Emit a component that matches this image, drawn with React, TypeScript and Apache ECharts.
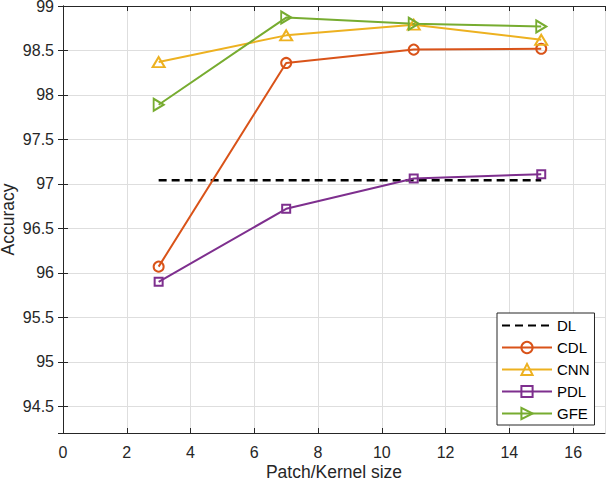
import React, { useEffect, useRef } from "react";
import * as echarts from "echarts";

const patchSizes = [3, 7, 11, 15];
const dlValues = [97.04, 97.04, 97.04, 97.04];
const cdlValues = [96.07, 98.36, 98.51, 98.52];
const cnnValues = [98.37, 98.67, 98.79, 98.62];
const pdlValues = [95.9, 96.72, 97.06, 97.11];
const gfeValues = [97.89, 98.87, 98.8, 98.77];
const seriesNames = ["DL", "CDL", "CNN", "PDL", "GFE"];

const FONT = "'Liberation Sans', Arial, Helvetica, sans-serif";
const AX = "#262626";
const GRID = "#dedede";
const CLEAR = "rgba(255,255,255,0)";

function pairs(values: number[]) {
  return patchSizes.map((x, i) => [x, values[i]]);
}

export default function App() {
  const ref = useRef<HTMLDivElement>(null);
  useEffect(() => {
    if (!ref.current) return;
    const chart = echarts.init(ref.current, null, { renderer: "svg" });
    const mk = (
      name: string,
      values: number[],
      color: string,
      symbol: string,
      symbolSize: any,
      dashed = false
    ) => ({
      name,
      type: "line",
      data: pairs(values),
      xAxisIndex: 0,
      yAxisIndex: 0,
      symbol,
      showSymbol: !dashed,
      symbolSize,
      lineStyle: { color, width: dashed ? 2.5 : 2, type: dashed ? [8, 5] : "solid" },
      itemStyle: dashed
        ? { color: CLEAR, borderColor: CLEAR, borderWidth: 0 }
        : { color: CLEAR, borderColor: color, borderWidth: 2 },
      emphasis: { disabled: true },
      z: dashed ? 2 : 3,
    });
    chart.setOption({
      animation: false,
      textStyle: { fontFamily: FONT },
      grid: { left: 63, right: 1, top: 6, bottom: 50, containLabel: false, outerBoundsMode: "none" },
      legend: {
        data: seriesNames,
        orient: "vertical",
        left: 497,
        top: 313,
        itemWidth: 50,
        itemHeight: 14,
        itemGap: 7,
        padding: [5, 5, 4, 4],
        backgroundColor: "#fff",
        borderColor: AX,
        borderWidth: 1,
        borderRadius: 0,
        textStyle: { fontSize: 15, color: "#000", fontFamily: FONT, lineHeight: 14 },
        selectedMode: false,
      },
      xAxis: [
        {
          type: "value",
          min: 0,
          max: 17,
          interval: 2,
          position: "bottom",
          name: "Patch/Kernel size",
          nameLocation: "middle",
          nameGap: 30,
          nameMoveOverlap: false,
          nameTextStyle: { fontSize: 17.5, color: AX, fontFamily: FONT },
          axisLine: { lineStyle: { color: AX, width: 1 } },
          axisTick: { inside: true, length: 5, lineStyle: { color: AX } },
          axisLabel: { fontSize: 16, color: AX, margin: 11, showMaxLabel: false, fontFamily: FONT },
          splitLine: { show: true, lineStyle: { color: GRID, width: 1 } },
        },
        {
          type: "value",
          min: 0,
          max: 17,
          interval: 2,
          position: "top",
          axisLine: { show: true, lineStyle: { color: AX, width: 1 } },
          axisTick: { show: true, inside: true, length: 5, lineStyle: { color: AX } },
          axisLabel: { show: false },
          splitLine: { show: false },
        },
      ],
      yAxis: [
        {
          type: "value",
          min: 94.2,
          max: 99,
          splitNumber: 10,
          position: "left",
          name: "Accuracy",
          nameLocation: "middle",
          nameGap: 48,
          nameMoveOverlap: false,
          nameTextStyle: { fontSize: 17.5, color: AX, fontFamily: FONT, lineHeight: 14 },
          axisLine: { show: true, lineStyle: { color: AX, width: 1 } },
          axisTick: { show: true, inside: true, length: 5, lineStyle: { color: AX } },
          axisLabel: {
            fontSize: 16,
            lineHeight: 8,
            padding: [3, 0, 0, 0],
            color: AX,
            margin: 9,
            showMinLabel: false,
            fontFamily: FONT,
          },
          splitLine: { show: true, lineStyle: { color: GRID, width: 1 } },
        },
        {
          type: "value",
          min: 94.2,
          max: 99,
          splitNumber: 10,
          position: "right",
          axisLine: { show: true, lineStyle: { color: AX, width: 1 } },
          axisTick: { show: true, inside: true, length: 5, lineStyle: { color: AX } },
          axisLabel: { show: false },
          splitLine: { show: false },
        },
      ],
      series: [
        mk("DL", dlValues, "#000000", "circle", 0, true),
        mk("CDL", cdlValues, "#D95319", "circle", 10),
        mk("CNN", cnnValues, "#EDB120", "triangle", [12, 10]),
        mk("PDL", pdlValues, "#7E2F8E", "rect", 8),
        mk("GFE", gfeValues, "#77AC30", "path://M0,0 L10,6 L0,12 Z", [10, 12]),
      ],
    });
    return () => chart.dispose();
  }, []);
  return (
    <div
      ref={ref}
      style={{ position: "fixed", left: 0, top: 0, width: 606, height: 483, background: "#fff" }}
    />
  );
}
